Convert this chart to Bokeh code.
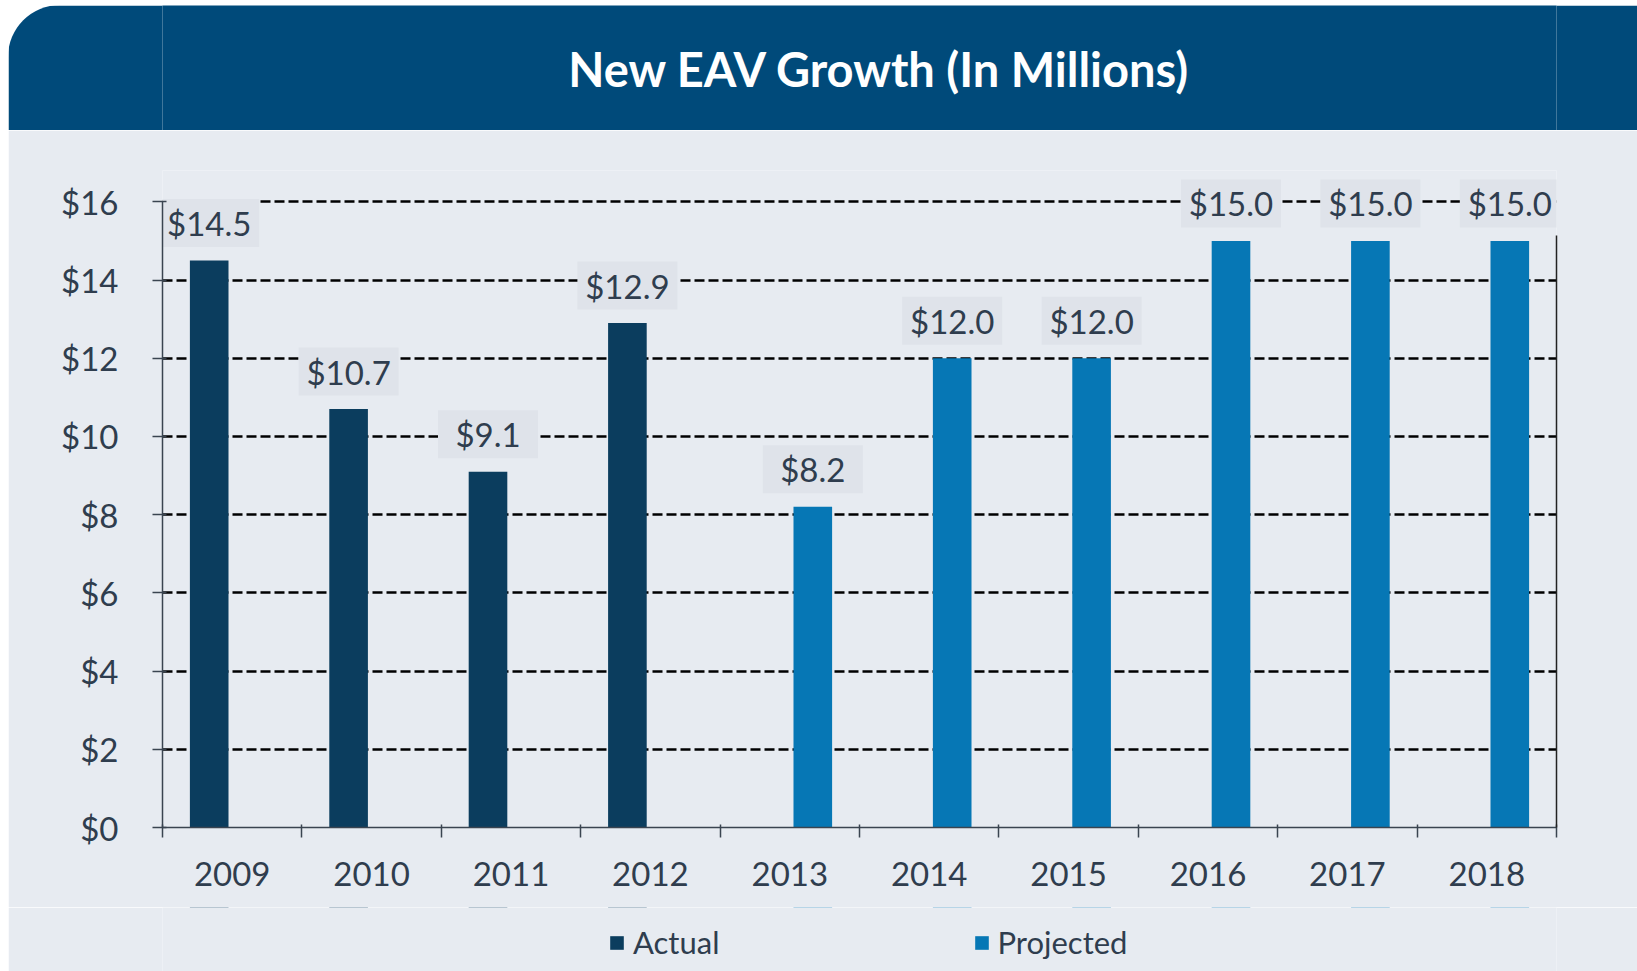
from bokeh.plotting import figure
from bokeh.layouts import column
from bokeh.models import (Range1d, FixedTicker, LinearAxis, Legend, LegendItem,
                          ColumnDataSource, NumeralTickFormatter)
from bokeh.core.properties import value
from bokeh.embed import file_html
from bokeh.resources import INLINE

# ---------------- data ----------------
years = ["2009", "2010", "2011", "2012", "2013", "2014", "2015", "2016", "2017", "2018"]
actual_years = ["2009", "2010", "2011", "2012"]
actual_values = [14.5, 10.7, 9.1, 12.9]
projected_years = ["2013", "2014", "2015", "2016", "2017", "2018"]
projected_values = [8.2, 12.0, 12.0, 15.0, 15.0, 15.0]
y_ticks = [0, 2, 4, 6, 8, 10, 12, 14, 16]
title_text = "New EAV Growth (In Millions)"
series_names = ["Actual", "Projected"]

# ---------------- style ----------------
FONT = "Lato"
TXT = "#2f3d4e"
PANEL = "#e7ebf1"
BOX = "#dfe3ea"
C_ACT = "#0b3d5e"
C_PROJ = "#0677b5"
HEADER = "#004a7a"

W = 1629
TITLE_H = 125
FIG_H = 777
LEG_H = 64
B_LEFT, B_RIGHT, B_TOP, B_BOTTOM = 154, 81, 40, 80
FRAME_W = W - B_LEFT - B_RIGHT
FRAME_H = FIG_H - B_TOP - B_BOTTOM
Y_TOP = 16.8
PX_PER_UNIT = FRAME_H / Y_TOP
LABEL_OFF = 37.5 / PX_PER_UNIT
OFFSET = 0.165
BAR_W = 0.277

idx = {y: i for i, y in enumerate(years)}
act_x = [idx[y] + 0.5 - OFFSET for y in actual_years]
proj_x = [idx[y] + 0.5 + OFFSET for y in projected_years]


def bare(fig, fill):
    fig.axis.visible = False
    fig.grid.visible = False
    fig.outline_line_color = None
    fig.background_fill_color = fill
    fig.border_fill_color = fill


# ---------------- title bar ----------------
t = figure(width=W, height=TITLE_H, x_range=Range1d(0, FRAME_W), y_range=Range1d(0, TITLE_H),
           toolbar_location=None, output_backend="svg",
           min_border_left=B_LEFT, min_border_right=B_RIGHT, min_border_top=0, min_border_bottom=0)
bare(t, HEADER)
t.styles = {"border-top-left-radius": "52px", "overflow": "hidden"}
t.text(x=[717], y=[62], text=[title_text], text_font=value(FONT),
       text_font_style="bold", text_font_size="47px", text_color="white",
       text_align="center", text_baseline="middle")

# ---------------- main chart ----------------
p = figure(width=W, height=FIG_H, x_range=Range1d(0, len(years)), y_range=Range1d(0, Y_TOP),
           toolbar_location=None, output_backend="svg",
           min_border_left=B_LEFT, min_border_right=B_RIGHT,
           min_border_top=B_TOP, min_border_bottom=B_BOTTOM,
           background_fill_color=PANEL, border_fill_color=PANEL)
p.outline_line_color = None

p.vbar(x=act_x, top=actual_values, width=BAR_W, fill_color=C_ACT, line_color=None)
p.vbar(x=proj_x, top=projected_values, width=BAR_W, fill_color=C_PROJ, line_color=None)

# grid
p.xgrid.visible = False
p.ygrid.ticker = FixedTicker(ticks=y_ticks[1:])
p.ygrid.grid_line_color = "black"
p.ygrid.grid_line_width = 2.5
p.ygrid.grid_line_dash = "10 4"

# data labels with background boxes
lab_x = act_x + proj_x
lab_v = actual_values + projected_values
src = ColumnDataSource(dict(x=lab_x, y=[v + LABEL_OFF for v in lab_v],
                            t=["${:.1f}".format(v) for v in lab_v]))
p.rect(x="x", y="y", width=100, height=48, width_units="screen", height_units="screen",
       source=src, fill_color=BOX, line_color=None)
p.text(x="x", y="y", text="t", source=src, text_font=value(FONT), text_font_size="33px",
       text_color=TXT, text_align="center", text_baseline="middle")

# y axis
yax = p.yaxis[0]
yax.bounds = (0, 16)
yax.ticker = FixedTicker(ticks=y_ticks)
yax.formatter = NumeralTickFormatter(format="$0")
yax.major_tick_out = 10
yax.major_tick_in = 4
yax.minor_tick_line_color = None
yax.major_label_standoff = 34
yax.axis_line_color = "#3a4450"
yax.axis_line_width = 1.5
yax.major_tick_line_color = "#3a4450"
yax.major_tick_line_width = 1.5
yax.major_label_text_font = FONT
yax.major_label_text_font_size = "33px"
yax.major_label_text_color = TXT

# x axis: labels at centres, ticks at boundaries
xax = p.xaxis[0]
centers = [i + 0.5 for i in range(len(years))]
xax.ticker = FixedTicker(ticks=centers, minor_ticks=list(range(len(years) + 1)))
xax.major_label_overrides = {c: y for c, y in zip(centers, years)}
xax.major_tick_line_color = None
xax.minor_tick_out = 10
xax.minor_tick_in = 3
xax.minor_tick_line_color = "#3a4450"
xax.minor_tick_line_width = 1.5
xax.axis_line_color = "#3a4450"
xax.axis_line_width = 1.5
xax.major_label_standoff = 24
xax.major_label_text_font = FONT
xax.major_label_text_font_size = "33px"
xax.major_label_text_color = TXT

# right border line
rax = LinearAxis(ticker=FixedTicker(ticks=[]), bounds=(0, 15.15),
                 axis_line_color="#222222", axis_line_width=1.5,
                 major_tick_line_color=None, minor_tick_line_color=None,
                 major_label_text_font_size="0px")
p.add_layout(rax, "right")

# ---------------- legend strip ----------------
# same series drawn far outside the visible y range so the legend gets real renderers
lg = figure(width=W, height=LEG_H, x_range=Range1d(0, len(years)), y_range=Range1d(-101, -100),
            toolbar_location=None, output_backend="svg",
            min_border_left=B_LEFT, min_border_right=B_RIGHT, min_border_top=0, min_border_bottom=0)
bare(lg, PANEL)
g_act = lg.vbar(x=act_x, top=actual_values, width=BAR_W, fill_color=C_ACT, line_color=None)
g_proj = lg.vbar(x=proj_x, top=projected_values, width=BAR_W, fill_color=C_PROJ, line_color=None)
legend = Legend(items=[LegendItem(label=series_names[0], renderers=[g_act]),
                       LegendItem(label=series_names[1], renderers=[g_proj])],
                orientation="horizontal", location=(446, 10), spacing=253,
                glyph_width=17, glyph_height=17, label_standoff=8, padding=0, margin=0,
                label_text_font=FONT, label_text_font_size="31px", label_text_color=TXT,
                background_fill_alpha=0, border_line_color=None)
lg.add_layout(legend, "center")

layout = column(t, p, lg, spacing=0, styles={"margin-left": "8px", "margin-top": "5px"})
open("out.html", "w").write(file_html(layout, INLINE))
